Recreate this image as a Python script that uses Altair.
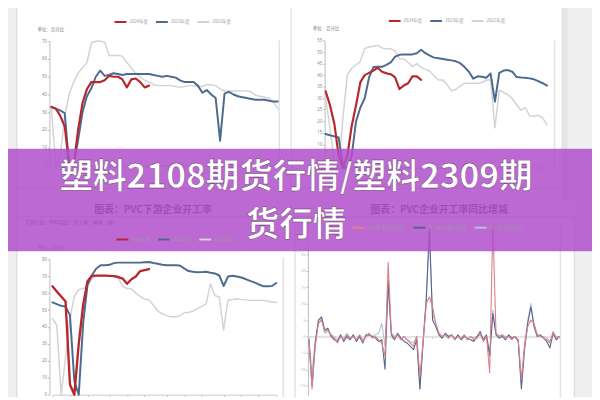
import altair as alt
import pandas as pd

M = 8            # browser page margin
W, H = 592, 392  # drawing size
FONT = "Noto Sans CJK SC"

# ---------------- data ----------------
SERIES = ["2024年度", "2023年度", "2022年度"]
WEEKS = list(range(1, 53))

P1_RED = [33, 32, 28, 22, 0, 0, 20, 35, 43, 47, 47, 47, 48, 50.5, 50, 50, 48.5, 44, 48.5, 49, 47, 44, 45]
P1_BLUE = [33, 32, 31, 29.5, 0, 0, 14, 30, 39, 43.5, 50, 53.5, 50.5, 51, 52, 51.5, 51, 51.5, 51.5, 51.5,
           51.5, 51.5, 51.5, 51, 50.5, 50, 50.5, 50, 49.5, 48, 47, 47, 47, 45, 41, 42.5, 40, 38, 14, 40.5,
           41.5, 40, 39, 38.5, 38, 37.5, 37, 37, 37, 36.5, 36, 36]
P1_GRAY = [32, 0, 5, 28, 40, 47, 52, 55, 58, 69, 70, 70, 69.5, 62, 62, 62, 61.5, 58, 55, 52,
           50, 48, 47, 45.5, 45, 45, 45, 45, 44.5, 44, 44.5, 45, 45, 44.5, 44.5, 45.5, 45.5, 45, 43, 42,
           42, 42, 42, 42, 42, 41.5, 39.5, 39, 38.5, 38, 36, 32]

P2_RED = [33, 27, 19, 5, 0, 5, 18, 27, 37, 40, 41, 42, 43.2, 41.5, 40.8, 40.4, 39, 34, 35.5, 36.5,
          39.5, 39.5, 38]
P2_BLUE = [14.5, 14, 13.5, 13, 0, 0, 5, 20, 26, 30, 39, 43.5, 43.6, 43.6, 44.5, 45.5, 48, 48.8, 49, 49,
           49, 49.5, 51, 49.5, 48.5, 47.6, 47.3, 47, 46.7, 46.4, 46, 45.2, 43.5, 41.5, 38.5, 39.5, 39.3, 38.9,
           40.7, 28.6, 41, 42, 42.2, 41.5, 39.2, 39, 38.9, 38.6, 38.2, 37.4, 36.5, 35.5]
P2_GRAY = [30, 17, 2, 0, 22, 40, 43, 44.5, 46, 51.5, 52.2, 52.5, 52.9, 51.8, 51.4, 51.4, 50.5, 47.2, 47, 45.5,
           43.8, 45, 43.3, 42.5, 41.7, 39.7, 37.9, 37.9, 35.8, 33.2, 33.8, 35.3, 36.5, 36.5, 36.5, 36.5, 36.8,
           37.9, 37.9, 17.2, 33.5, 32.5, 31.5, 29.8, 27.2, 24.7, 26, 22.3, 22.2, 22.6, 21.5, 18.5]

P3_RED = [64, 61, 58, 55, 6, 0, 30, 53, 67, 70.2, 70.3, 70.3, 70.3, 70.2, 70, 69.5, 68.6, 65.5, 68.2, 69.8,
          73, 73.6, 74.2]
P3_BLUE = [54.5, 53.5, 52.5, 52, 47, 8, 0, 42, 65, 70.5, 74.5, 76.5, 76.5, 76.7, 77.7, 78, 78, 78, 78, 78,
           78, 78.2, 78.4, 77.8, 77.3, 76.8, 76.5, 76.5, 76.5, 76.3, 74.6, 73, 72.6, 72.3, 72.4, 72.6, 72, 71.6,
           70.4, 64.2, 69.8, 70.3, 69.8, 69.2, 68.3, 67.2, 66.3, 65.1, 64.1, 64.1, 64.2, 66]
P3_GRAY = [45, 41, 0, 22, 45, 58, 62, 62.8, 63.8, 68.5, 70.3, 70.3, 70.3, 70.3, 70.3, 69, 64, 62.7, 62.5, 60,
           58, 56.5, 56, 53, 49.4, 47.8, 46.7, 46, 46, 46.5, 48.4, 48.5, 49.4, 50.8, 52.2, 53.5, 65.4, 58.5,
           57.7, 38.2, 55.8, 56.2, 56.7, 56.3, 56, 55.7, 55.7, 55.7, 55.7, 55.3, 54.8, 54.4]

P4_SERIES = ["开工率:电石法:同比", "开工率:乙烯法:同比", "开工率:全国:同比"]
P4_INDEX = list(range(80))
P4_RED = [-1, -16, -3, 4, 5, 1.5, 2, 0.5, -0.5, -2, 0, -1, 0.5, -0.5, 0, -1, 0.5, -1.5, 0, 1,
          -0.5, 0, -1, -2, -6, 22.5, 1, -0.5, 0.5, -1, 0, -1, -2, -3, 0, -12, -2, 10, 12, 9,
          4, 1, 0, 0.5, -0.5, 0.5, -1, 0, -0.5, 0.5, -1, 0, -1, -0.5, 1, -1.5, 0, -11, 34, 1,
          0, 0.5, -0.5, 0, -1, 0, -1, -13, -3, 3, 5, 4, 0.5, 0, -0.5, -1, -2, 1.5, -0.5, 0]
P4_BLUE = [-1, -15, -2, 5, 6, 2, 2.5, 0, -1, -1.5, 0.5, -1.5, 0, -1, 0.5, -1.5, 0, -2, 0.5, 0.5,
           0, -0.5, -1.5, -1, -10, 17, 0.5, -1, 1, -0.5, -1.5, -2, -3, -4, -1, -16, -2, 11, 33, 5,
           3, 0.5, -0.5, 1, 0, 0.5, -1, 0.5, -1, 0, -0.5, -1, -1.5, 0, 1.5, -1, 0.5, -6, 7, 0.5,
           -0.5, 0, -1, 0.5, -0.5, 0, -1.5, -16, -4, 4, 9, 3, 0, 0.5, -0.5, -1.5, -3.5, 1, -1, 0]
P4_GRAY = [-0.5, -11, -1, 4, 5.5, 1, 1.5, 0.5, 0, -1, 0, -0.5, 1, -0.5, 0, -1, 0.5, -1, 0, 0.5,
           0, 0.5, 1, 4, -3, 14, 1, 0, 0.5, -1, 0, -1, -1.5, -2, 0, -16, -1, 12, 30, 7,
           4, 1, 0, 0.5, -0.5, 0.5, -0.5, 0, -0.5, 0.5, -1, 0, -0.5, 0, 0.5, -1, 0, -5, 8, 1,
           0, 0.5, 0, 0, -0.5, 0, -1, -14, -2, 5, 10, 3.5, 0.5, 0, 0, -0.5, -1.5, 1, 0, 0]

# tick labels (those hidden behind the banner are left out)
Y1_TICKS = [0, 10, 20, 30, 40, 50, 60, 70]
Y2_TICKS = [10, 15, 20, 25, 30, 35, 40, 45, 50, 55]
Y3_TICKS = [0, 10, 20, 30, 40, 50, 60, 70, 80]
Y4_TICKS = [-15, -10, -5, 0, 5, 10, 15, 20, 25]
WEEK_TICKS = [1, 5, 9, 14, 18, 22, 27, 31, 35, 40, 44, 48, 52]
P4_TICKS = [0, 13, 26, 39, 52, 65, 79]

TITLE_LEFT = "图表：PVC下游企业开工率"
TITLE_RIGHT = "图表：PVC企业开工率同比增减"
P3_HEADER = "下游行业：PVC制品：开工率：中国（周）"
UNIT = "单位：百分比"
BANNER_1 = "塑料2108期货行情/塑料2309期"
BANNER_2 = "货行情"


def long_table(xs, red, blue, gray, names):
    rows = []
    for name, vals in ((names[2], gray), (names[1], blue), (names[0], red)):
        for x, v in zip(xs, vals):
            rows.append({"x": x, "value": v, "series": name})
    return pd.DataFrame(rows)


def panel(df, names, colors, widths, xdom, xpix, ydom, ypix, yticks, xticks,
          axis_x, axis_y, legend_xy, label_color="#8c8c8c", label_size=4.5):
    wexpr = (f"datum.series === '{names[0]}' ? {widths[0]} : "
             f"(datum.series === '{names[1]}' ? {widths[1]} : {widths[2]})")
    return alt.Chart(df).transform_calculate(sw=wexpr).mark_line(
        strokeJoin="round", strokeCap="round"
    ).encode(
        x=alt.X("x:Q",
                scale=alt.Scale(domain=xdom, range=[xpix[0] - M, xpix[1] - M], nice=False, zero=False),
                axis=alt.Axis(orient="bottom", offset=(axis_y - M) - H, values=xticks, labels=False,
                              tickSize=2, tickColor="#c8c8c8", domainColor="#c8c8c8", grid=False,
                              title=None)),
        y=alt.Y("value:Q",
                scale=alt.Scale(domain=ydom, range=[ypix[0] - M, ypix[1] - M], nice=False, zero=False),
                axis=alt.Axis(orient="left", offset=-(axis_x - M), values=yticks, labelFontSize=label_size,
                              labelColor=label_color, labelFont="Noto Sans", tickSize=2, tickColor="#bdbdbd",
                              domainColor="#bdbdbd", grid=False, title=None, labelPadding=1)),
        color=alt.Color("series:N", scale=alt.Scale(domain=names, range=colors),
                        legend=alt.Legend(orient="none", legendX=legend_xy[0] - M, legendY=legend_xy[1] - M,
                                          direction="horizontal", title=None, symbolType="stroke",
                                          symbolStrokeWidth=2, symbolSize=144, labelFontSize=4.5,
                                          labelColor="#9a9a9a", labelFont=FONT, labelOffset=2,
                                          columnPadding=4, padding=0, labelLimit=120)),
        strokeWidth=alt.StrokeWidth("sw:Q", scale=None),
    )


DOT = pd.DataFrame({"k": [0]})


def rect(x1, x2, y1, y2, color, opacity=1.0):
    return alt.Chart(DOT).mark_rect(color=color, opacity=opacity).encode(
        x=alt.value(x1 - M), x2=alt.value(x2 - M), y=alt.value(y1 - M), y2=alt.value(y2 - M))


def vline(x, y1, y2, color, w=1.0):
    return alt.Chart(DOT).mark_rule(color=color, strokeWidth=w).encode(
        x=alt.value(x - M), y=alt.value(y1 - M), y2=alt.value(y2 - M))


def hline(y, x1, x2, color, w=1.0):
    return alt.Chart(DOT).mark_rule(color=color, strokeWidth=w).encode(
        y=alt.value(y - M), x=alt.value(x1 - M), x2=alt.value(x2 - M))


def label(text, x, y, size, color, align="left", weight="normal", opacity=1.0,
          stroke=None, stroke_width=0):
    kw = dict(align=align, baseline="middle", fontSize=size, color=color, fontWeight=weight,
              font=FONT, opacity=opacity)
    if stroke:
        kw.update(stroke=stroke, strokeWidth=stroke_width)
    return alt.Chart(pd.DataFrame({"t": [text]})).mark_text(**kw).encode(
        x=alt.value(x - M), y=alt.value(y - M), text="t:N")


RED, BLUE, GRAY = "#b7282e", "#4d6b8e", "#d3d3d3"
P4_COLORS = ["#de7f8a", "#56658f", "#b3c2d6"]

p1 = panel(long_table(WEEKS, P1_RED, P1_BLUE, P1_GRAY, SERIES), SERIES, [RED, BLUE, GRAY], [2.2, 2.0, 1.5],
           [1, 52], [52, 281.5], [0, 70], [165, 39], Y1_TICKS, WEEK_TICKS, 50, 165, (115, 12.5))
p2 = panel(long_table(WEEKS, P2_RED, P2_BLUE, P2_GRAY, SERIES), SERIES, [RED, BLUE, GRAY], [2.2, 2.0, 1.5],
           [1, 52], [330, 554.4], [0, 55], [167, 38.3], Y2_TICKS, WEEK_TICKS, 329, 167, (393, 11.5))
p3 = panel(long_table(WEEKS, P3_RED, P3_BLUE, P3_GRAY, SERIES), SERIES, [RED, BLUE, GRAY], [2.4, 2.0, 1.5],
           [1, 52], [53, 280], [0, 80], [397.3, 260], Y3_TICKS, WEEK_TICKS, 50, 397.3, (117, 233))
p4 = panel(long_table(P4_INDEX, P4_RED, P4_BLUE, P4_GRAY, P4_SERIES), P4_SERIES, P4_COLORS, [1.1, 1.1, 1.1],
           [0, 79], [313, 567], [-18, 35], [398.2, 221.8], Y4_TICKS, P4_TICKS, 312, 338.3, (356, 221),
           label_color="#b5b5b5", label_size=4)

BORDER = "#d6d6d6"
back = [
    rect(0, 17, 0, 400, "#efefef"),
    rect(570, 600, 0, 200, "#efefef"),
    rect(569, 575, 0, 200, "#e5e5e5"),
    rect(582, 600, 200, 400, "#efefef"),
    vline(17, 0, 400, BORDER),
    vline(295, 0, 188, BORDER),
    hline(188, 17, 570, BORDER),
    hline(217, 17, 582, BORDER),
    vline(299, 217, 400, BORDER),
    vline(582, 217, 400, BORDER),
    vline(283, 38, 168, "#e2e2e2", 1.5),
    vline(562, 38, 168, "#e2e2e2", 1.5),
    vline(287, 258, 400, "#e2e2e2", 1.5),
    vline(568, 222, 400, "#e2e2e2", 1.5),
    label(UNIT, 38, 28, 4.5, "#777"),
    label(UNIT, 317, 27, 4.5, "#777"),
    label(UNIT, 38, 249, 4.5, "#777"),
    label(P3_HEADER, 25, 222, 5, "#2d3e6a"),
    label(TITLE_LEFT, 155, 210, 10, "#444", align="center", weight="bold"),
    label(TITLE_RIGHT, 445, 210, 10, "#444", align="center", weight="bold"),
]

front = [
    rect(0, 600, 148, 252, "#b24fcc", 0.85),
    label(BANNER_1, 300, 177.5, 34, "#ffffff", align="center", weight="bold", stroke="#5a2a66", stroke_width=0.4),
    label(BANNER_2, 300, 226.5, 34, "#ffffff", align="center", weight="bold", stroke="#5a2a66", stroke_width=0.4),
]

chart = alt.layer(*back, p1, p2, p3, p4, *front).resolve_scale(
    x="independent", y="independent", color="independent"
).properties(
    width=W, height=H, autosize=alt.AutoSizeParams(type="none"),
    padding={"left": 0, "top": 0, "right": 0, "bottom": 0},
    background="#ffffff",
).configure_view(stroke=None)

chart.save("out.html", embed_options={"renderer": "svg", "actions": False})
